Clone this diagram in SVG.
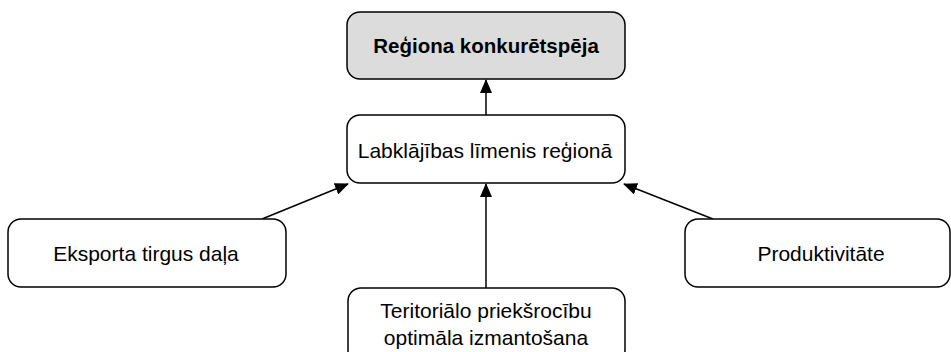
<svg xmlns="http://www.w3.org/2000/svg" width="951" height="352" viewBox="0 0 951 352">
<style>
.box{fill:#fff;stroke:#000;stroke-width:1.5}
.gray{fill:#dcdcdc}
.t{font-family:"Liberation Sans",Arial,sans-serif;font-size:21px;fill:#000;text-anchor:middle}
.b{font-weight:bold;font-size:20.5px}
.c{stroke:#000;stroke-width:1.5;fill:none;marker-end:url(#ah)}
</style>
<defs>
<marker id="ah" markerUnits="userSpaceOnUse" markerWidth="14" markerHeight="12" refX="13" refY="6" orient="auto">
<path d="M0,0 L14,6 L0,12 Z" fill="#000"/>
</marker>
</defs>
<rect width="951" height="352" fill="#fff"/>
<g id="connectors">
<line class="c" x1="486" y1="115" x2="486" y2="80"/>
<line class="c" x1="486" y1="288" x2="486" y2="184"/>
<line class="c" x1="262" y1="219" x2="348" y2="184"/>
<line class="c" x1="713" y1="219" x2="624" y2="184"/>
</g>
<g id="n-top">
<rect class="box gray" x="347" y="12" width="278" height="67" rx="13"/>
<text class="t b" x="486" y="53">Reģiona konkurētspēja</text>
</g>
<g id="n-mid">
<rect class="box" x="347" y="115" width="278" height="68" rx="13"/>
<text class="t" x="485" y="158">Labklājības līmenis reģionā</text>
</g>
<g id="n-left">
<rect class="box" x="8" y="219" width="278" height="68" rx="13"/>
<text class="t" x="146" y="261">Eksporta tirgus daļa</text>
</g>
<g id="n-right">
<rect class="box" x="685" y="219" width="265" height="68" rx="13"/>
<text class="t" x="821" y="261">Produktivitāte</text>
</g>
<g id="n-bottom">
<rect class="box" x="348" y="288" width="277" height="75" rx="13"/>
<text class="t" x="486" y="318">Teritoriālo priekšrocību</text>
<text class="t" x="486" y="345">optimāla izmantošana</text>
</g>
</svg>
